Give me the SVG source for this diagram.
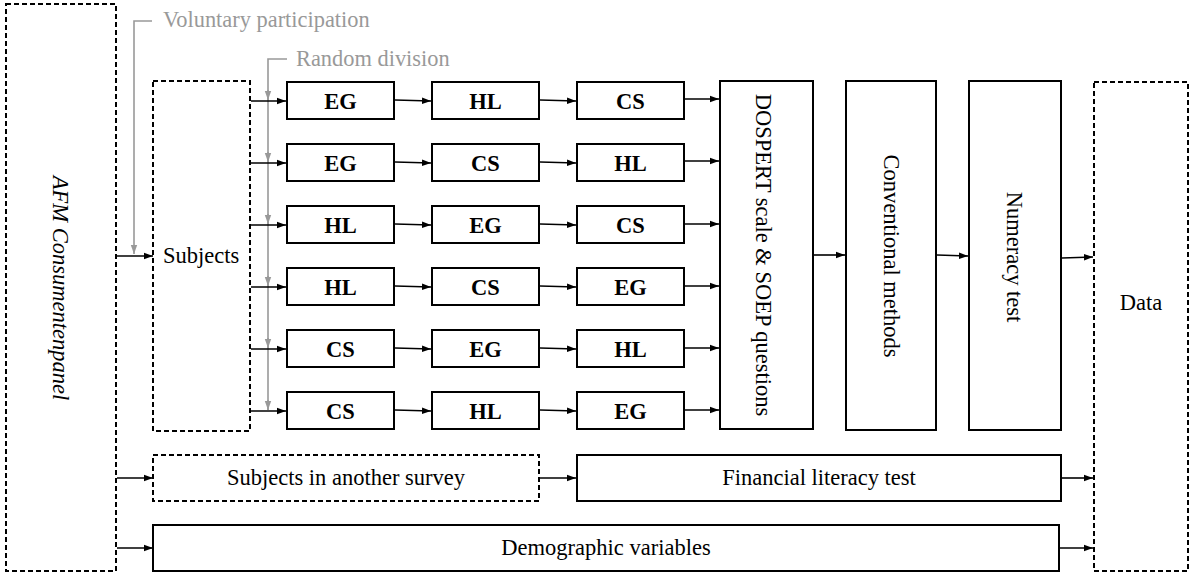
<svg xmlns="http://www.w3.org/2000/svg" width="1192" height="573" viewBox="0 0 1192 573">
  <style>
    .box { fill: #fff; stroke: #000; stroke-width: 2; }
    .dash { fill: #fff; stroke: #000; stroke-width: 2; stroke-dasharray: 5 3; }
    .txt { font-family: "Liberation Serif", "Times New Roman", serif; font-size: 22.5px; fill: #000; }
    .b { font-weight: bold; }
    .gtxt { font-family: "Liberation Serif", "Times New Roman", serif; font-size: 22.4px; fill: #999; }
    .conn { stroke: #000; stroke-width: 1.6; fill: none; }
    .gconn { stroke: #999; stroke-width: 1.6; fill: none; }
  </style>
  <defs>
    <marker id="arr" markerWidth="10" markerHeight="8" refX="9" refY="4" orient="auto" markerUnits="userSpaceOnUse">
      <path d="M0,0.8 L9,4 L0,7.2 Z" fill="#000"/>
    </marker>
    <marker id="garr" markerWidth="10" markerHeight="8" refX="9" refY="4" orient="auto" markerUnits="userSpaceOnUse">
      <path d="M0,0.8 L9,4 L0,7.2 Z" fill="#999"/>
    </marker>
  </defs>

  <rect width="1192" height="573" fill="#fff"/>

  <!-- nodes -->
  <g id="panel">
    <rect class="dash" x="6" y="4" width="110" height="567"/>
    <text class="txt" font-style="italic" font-size="23" text-anchor="middle" transform="translate(53,288) rotate(90)">AFM Consumentenpanel</text>
  </g>
  <g id="subjects">
    <rect class="dash" x="153" y="81" width="97" height="350"/>
    <text class="txt" x="163" y="263">Subjects</text>
  </g>

  <g id="r1c1"><rect class="box" x="287" y="82" width="107" height="37"/><text class="txt b" x="340.5" y="108.5" text-anchor="middle">EG</text></g>
  <g id="r1c2"><rect class="box" x="432" y="82" width="107" height="37"/><text class="txt b" x="485.5" y="108.5" text-anchor="middle">HL</text></g>
  <g id="r1c3"><rect class="box" x="577" y="82" width="107" height="37"/><text class="txt b" x="630.5" y="108.5" text-anchor="middle">CS</text></g>

  <g id="r2c1"><rect class="box" x="287" y="144" width="107" height="37"/><text class="txt b" x="340.5" y="170.5" text-anchor="middle">EG</text></g>
  <g id="r2c2"><rect class="box" x="432" y="144" width="107" height="37"/><text class="txt b" x="485.5" y="170.5" text-anchor="middle">CS</text></g>
  <g id="r2c3"><rect class="box" x="577" y="144" width="107" height="37"/><text class="txt b" x="630.5" y="170.5" text-anchor="middle">HL</text></g>

  <g id="r3c1"><rect class="box" x="287" y="206" width="107" height="37"/><text class="txt b" x="340.5" y="232.5" text-anchor="middle">HL</text></g>
  <g id="r3c2"><rect class="box" x="432" y="206" width="107" height="37"/><text class="txt b" x="485.5" y="232.5" text-anchor="middle">EG</text></g>
  <g id="r3c3"><rect class="box" x="577" y="206" width="107" height="37"/><text class="txt b" x="630.5" y="232.5" text-anchor="middle">CS</text></g>

  <g id="r4c1"><rect class="box" x="287" y="268" width="107" height="37"/><text class="txt b" x="340.5" y="294.5" text-anchor="middle">HL</text></g>
  <g id="r4c2"><rect class="box" x="432" y="268" width="107" height="37"/><text class="txt b" x="485.5" y="294.5" text-anchor="middle">CS</text></g>
  <g id="r4c3"><rect class="box" x="577" y="268" width="107" height="37"/><text class="txt b" x="630.5" y="294.5" text-anchor="middle">EG</text></g>

  <g id="r5c1"><rect class="box" x="287" y="330" width="107" height="37"/><text class="txt b" x="340.5" y="356.5" text-anchor="middle">CS</text></g>
  <g id="r5c2"><rect class="box" x="432" y="330" width="107" height="37"/><text class="txt b" x="485.5" y="356.5" text-anchor="middle">EG</text></g>
  <g id="r5c3"><rect class="box" x="577" y="330" width="107" height="37"/><text class="txt b" x="630.5" y="356.5" text-anchor="middle">HL</text></g>

  <g id="r6c1"><rect class="box" x="287" y="392" width="107" height="37"/><text class="txt b" x="340.5" y="418.5" text-anchor="middle">CS</text></g>
  <g id="r6c2"><rect class="box" x="432" y="392" width="107" height="37"/><text class="txt b" x="485.5" y="418.5" text-anchor="middle">HL</text></g>
  <g id="r6c3"><rect class="box" x="577" y="392" width="107" height="37"/><text class="txt b" x="630.5" y="418.5" text-anchor="middle">EG</text></g>

  <g id="dospert">
    <rect class="box" x="720" y="81" width="93" height="348"/>
    <text class="txt" text-anchor="middle" transform="translate(756,255) rotate(90)">DOSPERT scale &amp; SOEP questions</text>
  </g>
  <g id="conventional">
    <rect class="box" x="846" y="81" width="90" height="349"/>
    <text class="txt" text-anchor="middle" transform="translate(884,256) rotate(90)">Conventional methods</text>
  </g>
  <g id="numeracy">
    <rect class="box" x="969" y="81" width="92" height="349"/>
    <text class="txt" text-anchor="middle" transform="translate(1007,257) rotate(90)">Numeracy test</text>
  </g>
  <g id="data">
    <rect class="dash" x="1094" y="82" width="94" height="489"/>
    <text class="txt" x="1141" y="310" text-anchor="middle">Data</text>
  </g>

  <g id="other-survey">
    <rect class="dash" x="153" y="455" width="386" height="46"/>
    <text class="txt" x="346" y="485" text-anchor="middle">Subjects in another survey</text>
  </g>
  <g id="financial">
    <rect class="box" x="577" y="455" width="484" height="46"/>
    <text class="txt" x="819" y="485" text-anchor="middle">Financial literacy test</text>
  </g>
  <g id="demographic">
    <rect class="box" x="153" y="525" width="906" height="46"/>
    <text class="txt" x="606" y="555" text-anchor="middle">Demographic variables</text>
  </g>

  <!-- annotation labels -->
  <g id="labels">
    <text class="gtxt" x="163" y="27">Voluntary participation</text>
    <text class="gtxt" x="296" y="66">Random division</text>
  </g>

  <!-- connectors -->
  <g id="connectors">
    <!-- gray annotation arrows -->
    <path class="gconn" d="M152,21 H134 V254" marker-end="url(#garr)"/>
    <path class="gconn" d="M287,59 H268 V410"/>
    <path class="gconn" d="M268,90 V100" marker-end="url(#garr)"/>
    <path class="gconn" d="M268,152 V162" marker-end="url(#garr)"/>
    <path class="gconn" d="M268,214 V224" marker-end="url(#garr)"/>
    <path class="gconn" d="M268,276 V286" marker-end="url(#garr)"/>
    <path class="gconn" d="M268,338 V348" marker-end="url(#garr)"/>
    <path class="gconn" d="M268,400 V410" marker-end="url(#garr)"/>

    <!-- panel to subjects -->
    <line class="conn" x1="117" y1="256" x2="153" y2="256" marker-end="url(#arr)"/>
    <line class="conn" x1="117" y1="478" x2="153" y2="478" marker-end="url(#arr)"/>
    <line class="conn" x1="117" y1="548" x2="153" y2="548" marker-end="url(#arr)"/>

    <!-- subjects to first blocks -->
    <line class="conn" x1="251" y1="101" x2="286" y2="101" marker-end="url(#arr)"/>
    <line class="conn" x1="251" y1="163" x2="286" y2="163" marker-end="url(#arr)"/>
    <line class="conn" x1="251" y1="225" x2="286" y2="225" marker-end="url(#arr)"/>
    <line class="conn" x1="251" y1="287" x2="286" y2="287" marker-end="url(#arr)"/>
    <line class="conn" x1="251" y1="349" x2="286" y2="349" marker-end="url(#arr)"/>
    <line class="conn" x1="251" y1="411" x2="286" y2="411" marker-end="url(#arr)"/>

    <!-- first to second blocks -->
    <line class="conn" x1="395" y1="100" x2="431" y2="101" marker-end="url(#arr)"/>
    <line class="conn" x1="395" y1="162" x2="431" y2="163" marker-end="url(#arr)"/>
    <line class="conn" x1="395" y1="224" x2="431" y2="225" marker-end="url(#arr)"/>
    <line class="conn" x1="395" y1="286" x2="431" y2="287" marker-end="url(#arr)"/>
    <line class="conn" x1="395" y1="348" x2="431" y2="349" marker-end="url(#arr)"/>
    <line class="conn" x1="395" y1="410" x2="431" y2="411" marker-end="url(#arr)"/>

    <!-- second to third blocks -->
    <line class="conn" x1="540" y1="100" x2="576" y2="101" marker-end="url(#arr)"/>
    <line class="conn" x1="540" y1="162" x2="576" y2="163" marker-end="url(#arr)"/>
    <line class="conn" x1="540" y1="224" x2="576" y2="225" marker-end="url(#arr)"/>
    <line class="conn" x1="540" y1="286" x2="576" y2="287" marker-end="url(#arr)"/>
    <line class="conn" x1="540" y1="348" x2="576" y2="349" marker-end="url(#arr)"/>
    <line class="conn" x1="540" y1="410" x2="576" y2="411" marker-end="url(#arr)"/>

    <!-- third blocks to DOSPERT -->
    <line class="conn" x1="685" y1="99" x2="719" y2="99" marker-end="url(#arr)"/>
    <line class="conn" x1="685" y1="161" x2="719" y2="161" marker-end="url(#arr)"/>
    <line class="conn" x1="685" y1="224" x2="719" y2="224" marker-end="url(#arr)"/>
    <line class="conn" x1="685" y1="286" x2="719" y2="286" marker-end="url(#arr)"/>
    <line class="conn" x1="685" y1="348" x2="719" y2="348" marker-end="url(#arr)"/>
    <line class="conn" x1="685" y1="410" x2="719" y2="410" marker-end="url(#arr)"/>

    <!-- questionnaire chain -->
    <line class="conn" x1="814" y1="255" x2="845" y2="255" marker-end="url(#arr)"/>
    <line class="conn" x1="937" y1="255" x2="968" y2="256" marker-end="url(#arr)"/>
    <line class="conn" x1="1062" y1="258" x2="1093" y2="257" marker-end="url(#arr)"/>

    <!-- lower rows -->
    <line class="conn" x1="540" y1="478" x2="576" y2="478" marker-end="url(#arr)"/>
    <line class="conn" x1="1062" y1="478" x2="1093" y2="478" marker-end="url(#arr)"/>
    <line class="conn" x1="1060" y1="548" x2="1093" y2="548" marker-end="url(#arr)"/>
  </g>
</svg>
